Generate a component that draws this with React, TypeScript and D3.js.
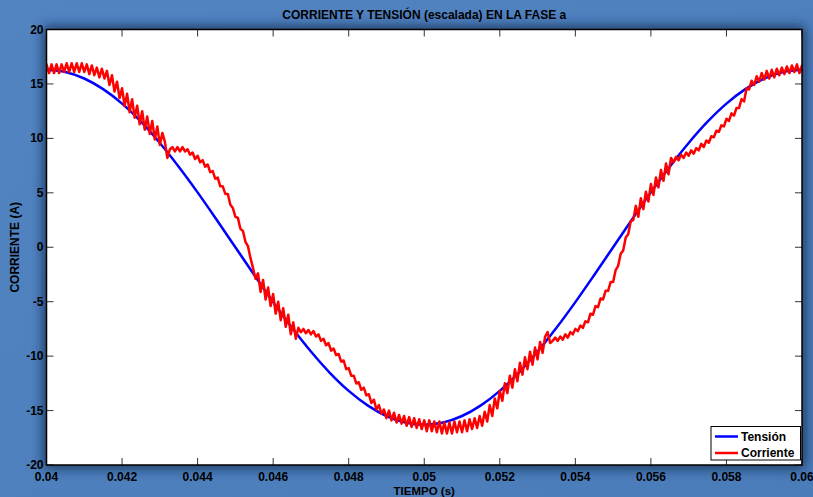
import React from 'react';
import * as d3 from 'd3';

const TITLE = 'CORRIENTE Y TENSIÓN (escalada) EN LA FASE a';
const X_LABEL = 'TIEMPO (s)';
const Y_LABEL = 'CORRIENTE (A)';

const T_START = 0.04;
const T_END = 0.06;

const xTicks = [0.04, 0.042, 0.044, 0.046, 0.048, 0.05, 0.052, 0.054, 0.056, 0.058, 0.06];
const xTickLabels = ['0.04', '0.042', '0.044', '0.046', '0.048', '0.05', '0.052', '0.054', '0.056', '0.058', '0.06'];
const yTicks = [-20, -15, -10, -5, 0, 5, 10, 15, 20];
const yTickLabels = ['-20', '-15', '-10', '-5', '0', '5', '10', '15', '20'];

const seriesNames = ['Tensión', 'Corriente'];

// Tensión (escalada), samples every 0.5 ms from 0.040 s to 0.060 s
const tension = [
  16.3, 16.1, 15.5, 14.52, 13.19, 11.53, 9.58, 7.4, 5.04, 2.55,
  0, -2.55, -5.04, -7.4, -9.58, -11.53, -13.19, -14.52, -15.5, -16.1,
  -16.3, -16.1, -15.5, -14.52, -13.19, -11.53, -9.58, -7.4, -5.04, -2.55,
  0, 2.55, 5.04, 7.4, 9.58, 11.53, 13.19, 14.52, 15.5, 16.1, 16.3,
];

// Corriente, 301 samples evenly spaced from 0.040 s to 0.060 s
const corriente = [
  16.8, 16.0, 16.8, 16.0, 16.8, 16.0, 16.8, 16.1, 16.9, 16.1, 16.9, 16.1, 16.9, 16.1, 16.9, 16.1,
  16.8, 15.9, 16.7, 15.8, 16.5, 15.6, 16.4, 15.5,
  16.2, 14.9, 15.8, 14.3, 15.2, 13.7, 14.6,
  13.0, 14.1, 12.4, 13.6, 11.9, 13.0, 11.3,
  12.5, 10.8, 12.0, 10.4, 11.6, 9.9, 11.1,
  9.4, 10.5, 9.7, 8.2,
  9.0, 9.2, 8.8, 9.2, 8.8, 9.2, 8.8, 9.0, 8.5, 8.7, 8.1, 8.4, 7.8, 8.0, 7.4, 7.6, 6.9, 7.0, 6.3, 6.4,
  5.6, 5.6, 4.9, 4.9, 3.9, 3.6, 2.8, 2.7, 1.7, 1.5, 0.5, 0.1, -1.0, -1.9, -2.9,
  -2.4, -4.1, -3.0, -4.8, -3.7, -5.4, -4.3, -6.1, -5.0, -6.7, -5.6, -7.3, -6.2, -8.0, -6.9, -8.4,
  -7.4, -7.8, -7.5, -7.9, -7.6, -8.0, -7.7, -8.2, -8.0, -8.6, -8.4, -9.0, -8.8, -9.5, -9.3, -9.9,
  -9.8, -10.5, -10.4, -11.2, -11.1, -11.8, -11.8, -12.5, -12.4, -13.1, -12.9, -13.6, -13.5, -14.3,
  -14.0, -14.9, -14.5, -15.3, -14.9,
  -15.7, -15.0, -15.9, -15.2, -16.1, -15.4, -16.2, -15.5, -16.4, -15.6, -16.5, -15.7, -16.6, -15.8,
  -16.7, -15.9, -16.9, -15.9, -16.9, -16.0, -17.0, -16.0, -17.1, -16.1, -17.1, -16.1, -17.1, -16.0,
  -17.0, -16.0, -17.0, -15.9, -16.9, -15.8, -16.7, -15.7, -16.6, -15.5, -16.4, -15.1, -16.0, -14.5,
  -15.5, -13.9, -14.8, -13.2, -14.1, -12.5, -13.4, -11.8, -12.9, -11.2, -12.3, -10.6, -11.7, -10.1,
  -11.2, -9.6, -10.8, -9.2, -10.3, -8.7, -9.7, -8.2, -7.8,
  -8.8, -8.6, -8.3, -8.6, -8.2, -8.5, -8.0, -8.3, -7.8, -8.0, -7.5, -7.7, -7.2, -7.4, -6.8, -6.9,
  -6.1, -6.2, -5.4, -5.5, -4.7, -4.8, -4.0, -4.0, -3.2, -3.2, -2.1, -1.7, -0.6, -0.3, 0.9, 1.2, 2.4, 2.5,
  3.8, 2.8, 4.5, 3.5, 5.1, 4.2, 5.8, 4.8, 6.4, 5.5, 7.1, 6.1, 7.7, 6.7, 8.2,
  7.8, 8.3, 8.0, 8.5, 8.2, 8.7, 8.4, 8.9, 8.6, 9.1, 8.9, 9.5, 9.2, 9.8, 9.6, 10.2, 10.1, 10.7, 10.6,
  11.2, 11.1, 11.8, 11.6, 12.3, 12.1, 12.8, 12.8, 13.6, 13.4, 14.6, 14.5, 15.3, 14.9, 15.7, 15.2,
  16.0, 15.4, 16.2, 15.5, 16.3, 15.6, 16.4, 15.8, 16.5, 15.9, 16.6, 16.0, 16.7, 16.1, 16.8, 16.0, 16.7,
];

const W = 813;
const H = 497;
const PLOT = { left: 46.5, right: 802, top: 29.5, bottom: 465 };
const FONT = '"Liberation Sans", Arial, Helvetica, sans-serif';
const BLUE = '#0000ff';
const RED = '#ff0000';

function toPoints(values: number[]) {
  const n = values.length;
  return values.map((v, i) => ({ t: T_START + (i * (T_END - T_START)) / (n - 1), v }));
}

export default function App() {
  const x = d3.scaleLinear().domain([T_START, T_END]).range([PLOT.left, PLOT.right]);
  const y = d3.scaleLinear().domain([-20, 20]).range([PLOT.bottom, PLOT.top]);

  const smoothLine = d3
    .line<{ t: number; v: number }>()
    .x((d) => x(d.t))
    .y((d) => y(d.v))
    .curve(d3.curveCatmullRom.alpha(0.5));
  const rawLine = d3
    .line<{ t: number; v: number }>()
    .x((d) => x(d.t))
    .y((d) => y(d.v));

  const tensionPath = smoothLine(toPoints(tension)) || '';
  const corrientePath = rawLine(toPoints(corriente)) || '';

  const pw = PLOT.right - PLOT.left;
  const ph = PLOT.bottom - PLOT.top;
  const tickLen = 7;

  const legend = { x: 711, y: 426.5, w: 89.5, h: 33.5 };

  return (
    <svg
      width={W}
      height={H}
      viewBox={`0 0 ${W} ${H}`}
      style={{ position: 'absolute', left: 0, top: 0, display: 'block' }}
    >
      <defs>
        <linearGradient id="bg" x1="0" y1="0" x2="1" y2="1">
          <stop offset="0" stopColor="#5284c2" />
          <stop offset="1" stopColor="#4a7cba" />
        </linearGradient>
        <filter id="glow" x="-10%" y="-10%" width="120%" height="120%">
          <feGaussianBlur stdDeviation="6" />
        </filter>
        <clipPath id="plotClip">
          <rect x={PLOT.left} y={PLOT.top} width={pw} height={ph} />
        </clipPath>
      </defs>

      <rect x={0} y={0} width={W} height={H} fill="url(#bg)" />
      <rect
        x={PLOT.left - 3}
        y={PLOT.top - 3}
        width={pw + 6}
        height={ph + 6}
        fill="#0d1f3a"
        opacity={0.75}
        filter="url(#glow)"
      />
      <rect x={PLOT.left} y={PLOT.top} width={pw} height={ph} fill="#ffffff" />

      {/* ticks (inward, all four sides) */}
      <g stroke="#333" strokeWidth={1}>
        {xTicks.map((t, i) => (
          <g key={'xt' + i}>
            <line x1={x(t)} x2={x(t)} y1={PLOT.bottom} y2={PLOT.bottom - tickLen} />
            <line x1={x(t)} x2={x(t)} y1={PLOT.top} y2={PLOT.top + tickLen} />
          </g>
        ))}
        {yTicks.map((v, i) => (
          <g key={'yt' + i}>
            <line x1={PLOT.left} x2={PLOT.left + tickLen} y1={y(v)} y2={y(v)} />
            <line x1={PLOT.right} x2={PLOT.right - tickLen} y1={y(v)} y2={y(v)} />
          </g>
        ))}
      </g>

      <g clipPath="url(#plotClip)" fill="none" strokeLinejoin="round" strokeLinecap="round">
        <path d={tensionPath} stroke={BLUE} strokeWidth={2.5} />
        <path d={corrientePath} stroke={RED} strokeWidth={2.5} />
      </g>

      <rect x={PLOT.left} y={PLOT.top} width={pw} height={ph} fill="none" stroke="#000" strokeWidth={1.5} />

      {/* tick labels */}
      <g fontFamily={FONT} fontWeight="bold" fontSize={12} fill="#000">
        {xTicks.map((t, i) => (
          <text key={'xl' + i} x={x(t)} y={476.5} textAnchor="middle" dominantBaseline="central">
            {xTickLabels[i]}
          </text>
        ))}
        {yTicks.map((v, i) => (
          <text key={'yl' + i} x={PLOT.left - 3} y={y(v)} textAnchor="end" dominantBaseline="central">
            {yTickLabels[i]}
          </text>
        ))}
      </g>

      {/* titles */}
      <text
        x={(PLOT.left + PLOT.right) / 2}
        y={15}
        textAnchor="middle"
        dominantBaseline="central"
        fontFamily={FONT}
        fontWeight="bold"
        fontSize={12}
        fill="#000"
      >
        {TITLE}
      </text>
      <text
        x={(PLOT.left + PLOT.right) / 2}
        y={490.5}
        textAnchor="middle"
        dominantBaseline="central"
        fontFamily={FONT}
        fontWeight="bold"
        fontSize={11.5}
        fill="#000"
      >
        {X_LABEL}
      </text>
      <text
        transform={`translate(15, ${(PLOT.top + PLOT.bottom) / 2}) rotate(-90)`}
        textAnchor="middle"
        dominantBaseline="central"
        fontFamily={FONT}
        fontWeight="bold"
        fontSize={12}
        fill="#000"
      >
        {Y_LABEL}
      </text>

      {/* legend */}
      <g>
        <rect x={legend.x} y={legend.y} width={legend.w} height={legend.h} fill="#fff" stroke="#000" strokeWidth={1} />
        {seriesNames.map((name, i) => {
          const cy = legend.y + 10 + i * 16.5;
          return (
            <g key={name}>
              <line x1={legend.x + 4} x2={legend.x + 27} y1={cy} y2={cy} stroke={i === 0 ? BLUE : RED} strokeWidth={2.5} />
              <text
                x={legend.x + 30}
                y={cy}
                dominantBaseline="central"
                fontFamily={FONT}
                fontWeight="bold"
                fontSize={12}
                fill="#000"
              >
                {name}
              </text>
            </g>
          );
        })}
      </g>
    </svg>
  );
}
